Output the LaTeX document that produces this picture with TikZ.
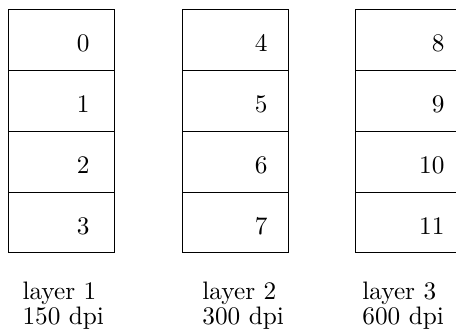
\documentclass[tikz,border=0pt]{standalone}
\usepackage{tikz}
\usetikzlibrary{positioning}
\tikzset{
  cellbox/.style={draw,minimum width=1.473cm,minimum height=0.846cm,inner sep=0pt},
  cellnum/.style={anchor=base east,inner sep=0pt},
  layerlabel/.style={anchor=base west,align=left,inner sep=0pt}
}

\begin{document}
\begin{tikzpicture}
  \useasboundingbox (0,0) rectangle (6.34,4.67);
  % three columns of four cells each
  \foreach \col/\x/\tx in {0/0.115/1.251, 1/2.53/3.725, 2/4.935/6.186} {
    \foreach \row in {0,...,3} {
      \pgfmathtruncatemacro{\n}{4*\col+\row}
      \node[cellbox,anchor=north west] (cell\n) at (\x,4.545-0.846*\row) {};
      \node[cellnum] (num\n) at (\tx,3.948-0.846*\row) {\n};
    }
  }
  % labels under the columns
  \foreach \i/\x/\dpi in {1/0.306/150, 2/2.808/300, 3/5.032/600} {
    \node[layerlabel] (layer\i) at (\x,0.152) {layer \i\\[-2pt]\dpi\ dpi};
  }
\end{tikzpicture}
\end{document}
